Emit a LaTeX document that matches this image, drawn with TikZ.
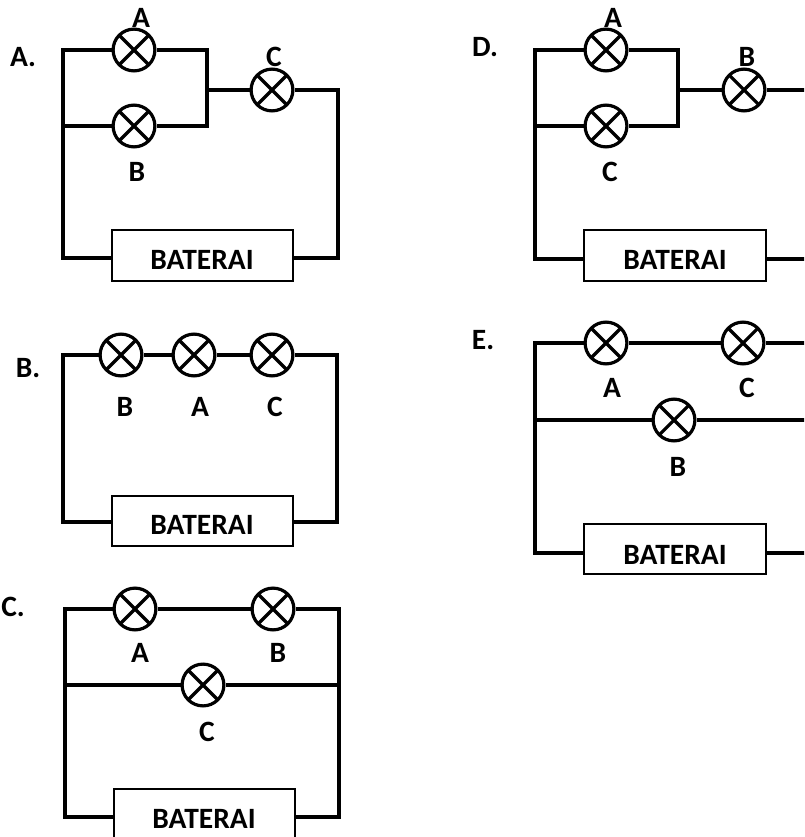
\documentclass[tikz,border=0pt]{standalone}
\usepackage{fontspec}
\setmainfont{Carlito}
\tikzset{
  wire/.style={line width=3.6pt},
  lamp/.style={circle, draw, line width=3.2pt, minimum size=41.8pt, inner sep=0pt,
    path picture={\draw[line width=3.2pt]
      (path picture bounding box.north west) -- (path picture bounding box.south east)
      (path picture bounding box.north east) -- (path picture bounding box.south west);}},
  bat/.style={draw, line width=1.8pt, inner sep=0pt, minimum width=181pt, minimum height=51pt},
  lbl/.style={font=\fontsize{29.5}{30}\selectfont\bfseries, inner sep=0pt},
}
\begin{document}
\begin{tikzpicture}[x=1pt,y=-1pt]
\useasboundingbox (0,0) rectangle (804,837);
\clip (0,0) rectangle (804,837);

% ---------------- Panel A ----------------
\node[lbl] (aLet) at (23,57) {A.};
\node[lamp] (aA) at (134,50) {};
\node[lamp] (aB) at (134,126) {};
\node[lamp] (aC) at (272,90) {};
\node[bat] (aBat) at (202.5,255.5) {};
\node[lbl] (aBatT) at (202,260) {BATERAI};
\node[lbl] (aLA) at (141,18) {A};
\node[lbl] (aLB) at (137,172) {B};
\node[lbl] (aLC) at (274,57) {C};
\coordinate (aTL) at (63,50);
\coordinate (aBL) at (63,258);
\coordinate (aML) at (63,126);
\coordinate (aPB) at (207,126);
\coordinate (aMid) at (207,90);
\coordinate (aBR) at (338,258);
\draw[wire] (aA.west) -- (aTL) -- (aBL) -- (aBL -| aBat.west);
\draw[wire] (aA.east) -| (aPB) -- (aB.east);
\draw[wire] (aB.west) -- (aML);
\draw[wire] (aMid) -- (aC.west);
\draw[wire] (aC.east) -| (aBR) -- (aBR -| aBat.east);

% ---------------- Panel D ----------------
\node[lbl] (dLet) at (485,47) {D.};
\node[lamp] (dA) at (606,50) {};
\node[lamp] (dC) at (606,126) {};
\node[lamp] (dB) at (744,90) {};
\node[bat, minimum width=182pt] (dBat) at (675,255.5) {};
\node[lbl] (dBatT) at (675,260) {BATERAI};
\node[lbl] (dLA) at (613,18) {A};
\node[lbl] (dLC) at (610,172) {C};
\node[lbl] (dLB) at (747,57) {B};
\coordinate (dTL) at (535,50);
\coordinate (dBL) at (535,259);
\coordinate (dML) at (535,126);
\coordinate (dPB) at (678,126);
\coordinate (dMid) at (678,90);
\coordinate (dR) at (812,90);
\coordinate (dBR) at (812,259);
\draw[wire] (dA.west) -- (dTL) -- (dBL) -- (dBL -| dBat.west);
\draw[wire] (dA.east) -| (dPB) -- (dC.east);
\draw[wire] (dC.west) -- (dML);
\draw[wire] (dMid) -- (dB.west);
\draw[wire] (dB.east) -- (dR);
\draw[wire] (dBR -| dBat.east) -- (dBR);

% ---------------- Panel B ----------------
\node[lbl] (bLet) at (28,368) {B.};
\node[lamp] (bB) at (121,355) {};
\node[lamp] (bA) at (194,355) {};
\node[lamp] (bC) at (272,355) {};
\node[bat, minimum height=50pt] (bBat) at (202.5,521) {};
\node[lbl] (bBatT) at (202,525) {BATERAI};
\node[lbl] (bLB) at (125,407) {B};
\node[lbl] (bLA) at (200,407) {A};
\node[lbl] (bLC) at (275,407) {C};
\coordinate (bTL) at (63,355);
\coordinate (bBL) at (63,522);
\coordinate (bTR) at (337,355);
\coordinate (bBR) at (337,522);
\draw[wire] (bB.west) -- (bTL) -- (bBL) -- (bBL -| bBat.west);
\draw[wire] (bB.east) -- (bA.west);
\draw[wire] (bA.east) -- (bC.west);
\draw[wire] (bC.east) -- (bTR) -- (bBR) -- (bBR -| bBat.east);

% ---------------- Panel E ----------------
\node[lbl] (eLet) at (483,340) {E.};
\node[lamp] (eA) at (606,343) {};
\node[lamp] (eC) at (743,343) {};
\node[lamp] (eB) at (674,420) {};
\node[bat, minimum width=182pt, minimum height=50pt] (eBat) at (675,549) {};
\node[lbl] (eBatT) at (675,555) {BATERAI};
\node[lbl] (eLA) at (612,388) {A};
\node[lbl] (eLC) at (747,388) {C};
\node[lbl] (eLB) at (678,467) {B};
\coordinate (eTL) at (535,343);
\coordinate (eBL) at (535,553);
\coordinate (eML) at (535,420);
\coordinate (eTR) at (812,343);
\coordinate (eMR) at (812,420);
\coordinate (eBR) at (812,553);
\draw[wire] (eA.west) -- (eTL) -- (eBL) -- (eBL -| eBat.west);
\draw[wire] (eA.east) -- (eC.west);
\draw[wire] (eC.east) -- (eTR);
\draw[wire] (eML) -- (eB.west);
\draw[wire] (eB.east) -- (eMR);
\draw[wire] (eBR -| eBat.east) -- (eBR);

% ---------------- Panel C ----------------
\node[lbl] (cLet) at (13,607) {C.};
\node[lamp] (cA) at (135,609) {};
\node[lamp] (cB) at (273,609) {};
\node[lamp] (cC) at (203,685) {};
\node[bat] (cBat) at (204.5,814.5) {};
\node[lbl] (cBatT) at (204,819) {BATERAI};
\node[lbl] (cLA) at (140,653) {A};
\node[lbl] (cLB) at (278,653) {B};
\node[lbl] (cLC) at (207,732) {C};
\coordinate (cTL) at (65,609);
\coordinate (cBL) at (65,817);
\coordinate (cML) at (65,685);
\coordinate (cTR) at (339,609);
\coordinate (cMR) at (339,685);
\coordinate (cBR) at (339,817);
\draw[wire] (cA.west) -- (cTL) -- (cBL) -- (cBL -| cBat.west);
\draw[wire] (cA.east) -- (cB.west);
\draw[wire] (cB.east) -- (cTR) -- (cBR) -- (cBR -| cBat.east);
\draw[wire] (cML) -- (cC.west);
\draw[wire] (cC.east) -- (cMR);
\end{tikzpicture}
\end{document}
